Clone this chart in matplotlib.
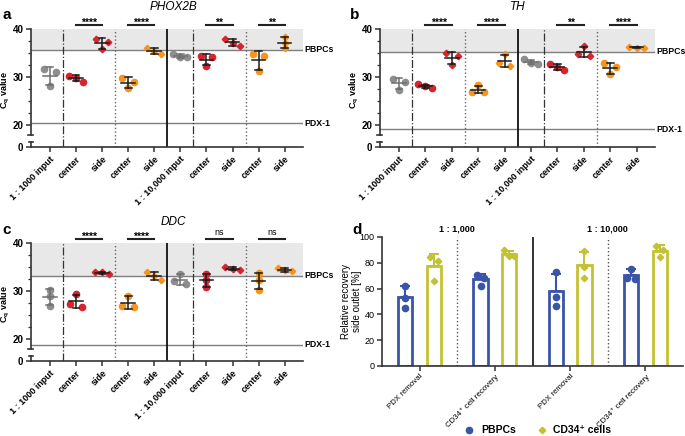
import numpy as np
import matplotlib
matplotlib.use('Agg')
import matplotlib.pyplot as plt
from matplotlib.lines import Line2D

plt.rcParams['font.family'] = ['Liberation Sans', 'DejaVu Sans']
plt.rcParams['mathtext.fontset'] = 'custom'
plt.rcParams['mathtext.rm'] = 'Liberation Sans'
plt.rcParams['mathtext.bf'] = 'Liberation Sans:bold'
plt.rcParams['mathtext.it'] = 'Liberation Sans:italic'
plt.rcParams['mathtext.default'] = 'regular'

# ---- data: Cq values (3 replicates per group) ----
groups = ['1 : 1000 input', 'center', 'side', 'center', 'side',
          '1 : 10,000 input', 'center', 'side', 'center', 'side']

phox2b_cq = [[31.7, 31.0, 28.2], [30.3, 29.9, 29.1], [38.0, 37.3, 35.8],
             [29.9, 29.0, 27.7], [36.0, 35.35, 34.9], [34.9, 34.1, 34.1],
             [34.4, 34.2, 32.4], [38.0, 37.2, 36.5], [34.8, 34.5, 31.2],
             [38.4, 37.2, 36.0]]
phox2b_pbpc = 35.7
phox2b_pdx = 20.4
phox2b_sig = ['****', '****', '**', '**']

th_cq = [[29.6, 29.1, 27.4], [28.5, 28.1, 27.85], [35.1, 34.4, 32.6],
         [28.3, 27.0, 27.0], [34.8, 33.0, 32.4], [33.7, 33.0, 32.8],
         [32.8, 32.2, 31.4], [36.5, 34.8, 34.4], [32.9, 32.1, 30.6],
         [36.3, 36.1, 36.1]]
th_pbpc = 35.3
th_pdx = 19.2
th_sig = ['****', '****', '**', '****']

ddc_cq = [[30.2, 29.05, 26.9], [29.4, 27.4, 26.8], [34.0, 33.9, 33.5],
          [29.1, 27.0, 26.8], [34.0, 33.2, 32.4], [33.6, 32.1, 31.4],
          [33.5, 32.3, 30.9], [35.0, 34.7, 34.3], [33.7, 32.3, 30.3],
          [34.8, 34.3, 34.1]]
ddc_pbpc = 33.2
ddc_pdx = 18.9
ddc_sig = ['****', '****', 'ns', 'ns']

# ---- data: relative recovery side outlet [%] ----
d_categories = ['PDX removal', 'CD34\u207a cell recovery',
                'PDX removal', 'CD34\u207a cell recovery']
d_dilutions = ['1 : 1,000', '1 : 10,000']
pbpc_recovery = [[62.0, 53.0, 45.0], [70.5, 68.5, 62.3],
                 [72.9, 53.7, 46.8], [75.5, 68.5, 67.5]]
cd34_recovery = [[84.2, 81.7, 66.1], [89.9, 85.5, 85.3],
                 [89.1, 77.0, 68.0], [93.3, 89.9, 84.8]]

GREY = '#8e8e8e'
RED = '#d7242f'
ORANGE = '#f7941d'
BLUE = '#3a55a8'
YG = '#c3c233'
group_colors = [GREY, RED, RED, ORANGE, ORANGE, GREY, RED, RED, ORANGE, ORANGE]
group_markers = ['o', 'o', 'D', 'o', 'D', 'o', 'o', 'D', 'o', 'D']


def swarm(vals, thr, w2, w3):
    # spread points that sit close together, symmetric around the centre
    vals = np.asarray(vals)
    order = np.argsort(vals)[::-1]
    offs = np.zeros(len(vals))
    clusters = [[order[0]]]
    for a, b in zip(order[:-1], order[1:]):
        if vals[a] - vals[b] < thr:
            clusters[-1].append(b)
        else:
            clusters.append([b])
    for cl in clusters:
        n = len(cl)
        if n == 1:
            continue
        step = w2 if n == 2 else w3
        for k, idx in enumerate(cl):
            offs[idx] = (k - (n - 1) / 2) * step
    return offs


def cq_panel(ax, cq, pbpc, pdx, sig):
    ax.set_xlim(-0.72, 9.7)
    ax.set_ylim(15.5, 40)
    ax.axhspan(pbpc, 40, color='#e8e8e8', lw=0, zorder=0)
    ax.axhline(pbpc, color='#7f7f7f', lw=1, zorder=1)
    ax.axhline(pdx, color='#7f7f7f', lw=1, zorder=1)
    tr = ax.get_yaxis_transform()
    ax.text(1.005, pbpc, 'PBPCs', transform=tr, va='center', ha='left',
            fontsize=6.3, fontweight='bold')
    ax.text(1.005, pdx, 'PDX-1', transform=tr, va='center', ha='left',
            fontsize=6.3, fontweight='bold')

    for xs, ls, col, lw in [(0.5, '-.', '#333333', 0.9), (2.5, ':', '#666666', 1.0),
                            (4.5, '-', '#111111', 1.3), (5.5, '-.', '#333333', 0.9),
                            (7.5, ':', '#666666', 1.0)]:
        ax.plot([xs, xs], [15.5, 40], ls=ls, color=col, lw=lw, zorder=1)

    for i, vals in enumerate(cq):
        vals = np.array(vals)
        m, s = vals.mean(), vals.std(ddof=1)
        offs = swarm(vals, 1.0, 0.45, 0.27)
        ms = 4.5 if group_markers[i] == 'o' else 3.3
        ax.plot(i + offs, vals, ls='none', marker=group_markers[i], ms=ms,
                color=group_colors[i], zorder=3)
        ec = '#6f6f6f' if group_colors[i] == GREY else '#1a1a1a'
        ax.plot([i - 0.26, i + 0.26], [m, m], color=ec, lw=1.1, zorder=4)
        ax.plot([i, i], [m - s, m + s], color=ec, lw=1.1, zorder=4)
        for yy in (m - s, m + s):
            ax.plot([i - 0.13, i + 0.13], [yy, yy], color=ec, lw=1.1, zorder=4)

    for k, (x0, x1) in enumerate([(1, 2), (3, 4), (6, 7), (8, 9)]):
        ax.plot([x0, x1], [40.85, 40.85], color='#222222', lw=1.5, clip_on=False)
        if sig[k].startswith('*'):
            ax.text((x0 + x1) / 2, 41.3, sig[k], ha='center', va='center',
                    fontsize=7.5, fontweight='bold')
        else:
            ax.text((x0 + x1) / 2, 42.1, sig[k], ha='center', va='center',
                    fontsize=6.5)

    # axes styling with broken y axis
    for sp in ['top', 'right', 'left']:
        ax.spines[sp].set_visible(False)
    ax.spines['bottom'].set_linewidth(1.2)
    ax.spines['bottom'].set_color('#333333')
    ax.plot([0, 0], [17.9, 40], transform=tr, color='#333333', lw=1.2, clip_on=False)
    ax.plot([0, 0], [15.5, 16.45], transform=tr, color='#333333', lw=1.2, clip_on=False)
    for yy, x0 in [(17.9, -0.012), (16.45, -0.009)]:
        ax.plot([x0, 0.009], [yy, yy], transform=tr, color='#333333', lw=1.2,
                clip_on=False)

    ax.set_xticks(range(len(groups)))
    ax.set_xticklabels(groups, rotation=45, ha='right', rotation_mode='anchor',
                       fontsize=6.5, fontweight='bold')
    ax.set_yticks([15.5, 20, 30, 40])
    ax.set_yticklabels(['0', '20', '30', '40'], fontsize=7, fontweight='bold')
    ax.set_yticks([22.5, 25, 27.5, 32.5, 35, 37.5], minor=True)
    ax.tick_params(axis='both', which='major', length=3.5, width=1.1,
                   color='#333333', pad=2)
    ax.tick_params(axis='y', which='minor', length=2, width=0.9, color='#333333')
    ax.set_ylabel('C$_q$ value', fontsize=6.5, fontweight='bold')
    ax.yaxis.set_label_coords(-0.069, 0.48)


fig = plt.figure(figsize=(6.85, 4.36), dpi=100)
ax_a = fig.add_axes([0.0453, 0.6628, 0.397, 0.2706])
ax_b = fig.add_axes([0.5547, 0.6628, 0.4015, 0.2706])
ax_c = fig.add_axes([0.0453, 0.172, 0.397, 0.2706])
ax_d = fig.add_axes([0.5577, 0.1606, 0.4394, 0.2959])

cq_panel(ax_a, phox2b_cq, phox2b_pbpc, phox2b_pdx, phox2b_sig)
cq_panel(ax_b, th_cq, th_pbpc, th_pdx, th_sig)
cq_panel(ax_c, ddc_cq, ddc_pbpc, ddc_pdx, ddc_sig)

for x, y, title in [(0.2526, 0.985, 'PHOX2B'), (0.756, 0.985, 'TH'),
                    (0.2526, 0.491, 'DDC')]:
    fig.text(x, y, title, style='italic', fontsize=8.5, ha='center', va='center')

# ---- panel d ----
ax = ax_d
ax.set_xlim(-0.5, 3.5)
ax.set_ylim(0, 100)
for j in range(len(d_categories)):
    for vals, dx, col, mk, ms in [(pbpc_recovery[j], -0.19, BLUE, 'o', 4.5),
                                  (cd34_recovery[j], 0.19, YG, 'D', 3.3)]:
        vals = np.array(vals)
        m, s = vals.mean(), vals.std(ddof=1)
        ax.bar(j + dx, m, width=0.19, facecolor='white', edgecolor=col, lw=2.0,
               zorder=2)
        ax.errorbar(j + dx, m, yerr=[[0], [s]], fmt='none', ecolor=col,
                    elinewidth=1.5, capsize=3.5, capthick=1.5, zorder=3)
        offs = swarm(vals, 4.5, 0.1, 0.07)
        ax.plot(j + dx + offs, vals, ls='none', marker=mk, ms=ms, color=col,
                zorder=4)

for xs, ls, col, lw in [(0.5, ':', '#555555', 1.0), (1.5, '-', '#111111', 1.2),
                        (2.5, ':', '#555555', 1.0)]:
    ax.plot([xs, xs], [0, 100], ls=ls, color=col, lw=lw, zorder=1)
for xs, lab in zip([0.5, 2.5], d_dilutions):
    ax.text(xs, 103, lab, ha='center', va='bottom', fontsize=6.5, fontweight='bold')

for sp in ['top', 'right']:
    ax.spines[sp].set_visible(False)
for sp in ['left', 'bottom']:
    ax.spines[sp].set_linewidth(1.2)
    ax.spines[sp].set_color('#333333')
ax.set_xticks(range(len(d_categories)))
ax.set_xticklabels(d_categories, rotation=45, ha='right', rotation_mode='anchor')
ax.set_yticks([0, 20, 40, 60, 80, 100])
ax.tick_params(axis='both', length=3.5, width=1.1, color='#333333')
ax.tick_params(axis='y', pad=2, labelsize=6.5)
ax.tick_params(axis='x', pad=1.5, labelsize=5.7)
ax.set_ylabel('Relative recovery\nside outlet [%]', fontsize=7)
ax.yaxis.set_label_coords(-0.066, 0.5)

handles = [Line2D([], [], ls='none', marker='o', ms=4.5, color=BLUE),
           Line2D([], [], ls='none', marker='D', ms=3.3, color=YG)]
fig.legend(handles, ['PBPCs', 'CD34\u207a cells'], loc='center',
           bbox_to_anchor=(0.785, 0.013), ncol=2, frameon=False,
           prop={'size': 7.5, 'weight': 'bold'}, handletextpad=0.6,
           columnspacing=2.0, handlelength=1.0, borderpad=0.1)

# panel letters
for x, y, letter in [(0.004, 0.965, 'a'), (0.511, 0.965, 'b'),
                     (0.004, 0.472, 'c'), (0.515, 0.472, 'd')]:
    fig.text(x, y, letter, fontsize=11, fontweight='bold', ha='left', va='center')

fig.savefig('out.png', dpi=100)
